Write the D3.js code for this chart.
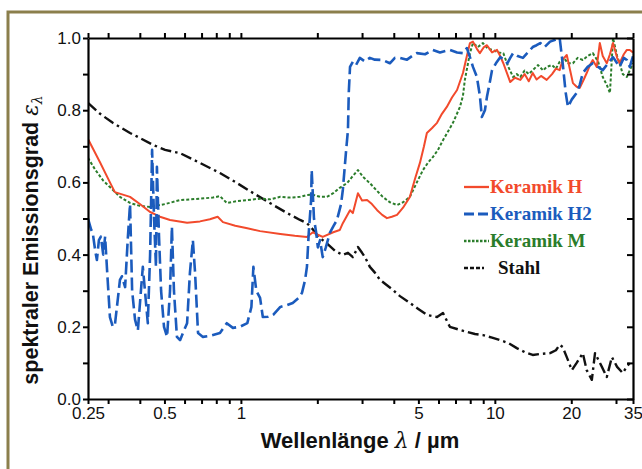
<!DOCTYPE html>
<html><head><meta charset="utf-8">
<script src="https://cdn.jsdelivr.net/npm/d3@7"></script>
<style>body{margin:0;background:#fff}svg{display:block}</style>
</head><body><svg id="c" width="642" height="469"></svg>
<script>
const xTickValues = [0.25,0.3,0.4,0.5,0.6,0.7,0.8,0.9,1,2,3,4,5,6,7,8,9,10,20,30,35];
const xTickLabels = [0.25,0.5,1,5,10,20,35];
const yTickValues = [0,0.1,0.2,0.3,0.4,0.5,0.6,0.7,0.8,0.9,1.0];
const yTickLabels = [0,0.2,0.4,0.6,0.8,1.0];
const seriesNames = ["Keramik H","Keramik H2","Keramik M","Stahl"];

const hWl = [0.25,0.279,0.305,0.319,0.366,0.40,0.439,0.48,0.526,0.614,0.69,0.755,0.81,0.85,0.95,1.06,1.19,1.43,1.63,1.82,1.92,2.01,2.10,2.31,2.45,2.52,2.69,2.76,2.89,3.0,3.14,3.28,3.44,3.6,3.76,3.93,4.12,4.35,4.63,4.85,5.07,5.26,5.40,5.65,5.92,6.19,6.47,6.78,7.10,7.49,7.76,7.98,8.2,8.5,8.73,9.06,9.31,9.75,10.2,10.5,10.8,11.2,11.5,12.0,12.6,13.1,13.6,14.1,14.6,15.2,16.0,16.8,17.4,18.0,18.5,19.2,19.8,20.3,21.0,21.6,22.4,23.0,23.7,24.3,25.2,25.9,26.6,27.6,28.4,29.2,30.3,31.0,32.2,33.1,34.0,35];
const hVal = [0.72,0.655,0.6,0.573,0.56,0.54,0.518,0.505,0.496,0.488,0.492,0.498,0.505,0.49,0.48,0.473,0.465,0.457,0.452,0.449,0.462,0.455,0.449,0.462,0.468,0.487,0.523,0.515,0.57,0.55,0.551,0.54,0.523,0.51,0.501,0.505,0.51,0.53,0.56,0.61,0.654,0.7,0.737,0.75,0.765,0.79,0.809,0.835,0.856,0.903,0.95,0.986,0.99,0.97,0.958,0.975,0.98,0.96,0.967,0.95,0.93,0.9,0.878,0.89,0.884,0.9,0.88,0.903,0.885,0.895,0.884,0.9,0.915,0.911,0.94,0.953,0.91,0.875,0.865,0.862,0.885,0.903,0.925,0.939,0.92,0.986,0.95,0.93,0.955,0.986,0.945,0.93,0.955,0.967,0.967,0.96];

const h2Wl = [0.25,0.257,0.261,0.267,0.271,0.276,0.281,0.287,0.292,0.297,0.305,0.313,0.319,0.328,0.334,0.34,0.35,0.359,0.366,0.373,0.383,0.393,0.404,0.411,0.419,0.43,0.439,0.447,0.455,0.463,0.467,0.476,0.485,0.498,0.512,0.526,0.535,0.545,0.56,0.576,0.597,0.614,0.63,0.647,0.66,0.678,0.709,0.755,0.827,0.88,0.93,0.99,1.06,1.10,1.12,1.15,1.19,1.22,1.28,1.34,1.43,1.52,1.60,1.69,1.74,1.79,1.82,1.85,1.89,1.90,1.94,1.98,2.01,2.05,2.10,2.16,2.24,2.32,2.39,2.48,2.52,2.59,2.64,2.66,2.69,2.76,2.84,2.94,3.08,3.22,3.37,3.62,3.86,4.04,4.23,4.51,4.72,4.93,5.31,5.70,6.08,6.65,7.10,7.49,7.76,7.98,8.2,8.5,8.73,8.89,9.14,9.31,9.57,9.75,10.1,10.5,10.9,11.2,11.5,11.8,12.3,12.9,13.5,14.1,14.6,15.1,15.7,16.5,17.3,18.0,18.5,19.0,19.4,20.1,21.0,21.6,22.2,23.2,24.3,25.5,26.6,27.9,29.2,30.3,31.0,32.2,33.1,34.0,35];
const h2Val = [0.5,0.47,0.46,0.41,0.385,0.44,0.45,0.4,0.45,0.36,0.227,0.2,0.205,0.28,0.33,0.34,0.31,0.45,0.54,0.3,0.22,0.19,0.3,0.366,0.3,0.21,0.4,0.69,0.5,0.366,0.643,0.45,0.3,0.2,0.172,0.3,0.477,0.3,0.172,0.163,0.19,0.21,0.35,0.44,0.35,0.183,0.172,0.175,0.183,0.21,0.197,0.2,0.21,0.255,0.366,0.3,0.28,0.227,0.228,0.233,0.255,0.26,0.266,0.28,0.294,0.33,0.366,0.46,0.55,0.634,0.5,0.46,0.42,0.44,0.393,0.42,0.46,0.48,0.496,0.54,0.579,0.68,0.745,0.85,0.92,0.934,0.925,0.945,0.935,0.945,0.94,0.939,0.93,0.945,0.945,0.94,0.95,0.958,0.955,0.967,0.96,0.967,0.96,0.958,0.972,0.947,0.92,0.892,0.84,0.781,0.8,0.837,0.88,0.911,0.93,0.947,0.94,0.93,0.945,0.958,0.95,0.945,0.96,0.975,0.98,0.986,0.975,0.99,0.995,1.0,0.93,0.85,0.809,0.83,0.848,0.87,0.903,0.92,0.93,0.92,0.911,0.93,0.947,0.93,0.92,0.945,0.939,0.92,0.95];

const mWl = [0.25,0.267,0.287,0.305,0.334,0.366,0.40,0.439,0.503,0.576,0.69,0.776,0.827,0.88,0.966,1.06,1.19,1.30,1.43,1.56,1.71,1.82,1.92,2.05,2.18,2.31,2.45,2.62,2.74,2.89,3.03,3.22,3.40,3.62,3.86,4.12,4.35,4.63,4.93,5.21,5.46,5.70,5.97,6.25,6.53,6.84,7.29,7.49,7.62,7.84,7.98,8.2,8.57,8.98,9.4,9.82,10.3,10.8,11.3,11.8,12.2,12.6,13.1,13.6,14.1,14.8,15.5,16.0,16.8,17.4,18.0,18.7,19.4,20.3,21.2,22.2,23.2,24.3,25.5,26.6,27.6,28.4,29.2,30.3,31.0,31.9,33.1,34.0,35];
const mVal = [0.668,0.635,0.605,0.587,0.56,0.543,0.535,0.532,0.54,0.551,0.555,0.558,0.562,0.543,0.548,0.551,0.555,0.553,0.56,0.558,0.56,0.565,0.566,0.56,0.56,0.57,0.585,0.598,0.615,0.634,0.615,0.598,0.58,0.56,0.545,0.537,0.545,0.56,0.6,0.634,0.655,0.67,0.69,0.717,0.74,0.765,0.809,0.84,0.884,0.93,0.958,0.986,0.975,0.986,0.97,0.967,0.96,0.958,0.92,0.892,0.9,0.892,0.91,0.9,0.911,0.925,0.91,0.92,0.925,0.915,0.934,0.945,0.93,0.93,0.945,0.939,0.95,0.958,0.935,0.892,0.87,0.848,1.0,0.95,0.93,0.9,0.892,0.911,0.93];

const sWl = [0.25,0.279,0.313,0.366,0.451,0.503,0.576,0.69,0.827,0.966,1.12,1.30,1.52,1.71,1.82,1.92,2.01,2.10,2.18,2.35,2.52,2.64,2.76,2.84,2.89,3.0,3.08,3.22,3.37,3.53,3.76,3.97,4.23,4.63,4.98,5.40,5.92,6.25,6.65,7.16,7.76,8.35,8.98,9.75,10.5,11.3,12.2,13.1,14.1,15.1,16.5,17.4,18.0,18.5,19.2,20.1,21.0,22.2,23.0,24.1,24.8,25.5,26.4,27.6,28.9,30.3,31.9,33.1,34.0];
const sVal = [0.82,0.79,0.765,0.737,0.704,0.69,0.681,0.654,0.626,0.598,0.57,0.543,0.515,0.496,0.487,0.47,0.45,0.44,0.431,0.41,0.399,0.405,0.393,0.41,0.421,0.405,0.393,0.366,0.35,0.33,0.315,0.302,0.285,0.266,0.25,0.233,0.227,0.238,0.2,0.193,0.186,0.18,0.177,0.17,0.163,0.155,0.141,0.13,0.122,0.125,0.127,0.135,0.15,0.144,0.116,0.08,0.1,0.127,0.08,0.053,0.127,0.11,0.089,0.061,0.116,0.089,0.072,0.09,0.1];

const svg = d3.select("#c");
const L = 88, R = 633, T = 38, B = 399;
const x = d3.scaleLog().domain([0.25,35]).range([L,R]);
const y = d3.scaleLinear().domain([0,1]).range([B,T]);

// frame
svg.append("rect").attr("x",8).attr("y",12).attr("width",660).attr("height",480)
  .attr("fill","#fff").attr("stroke","#8b7f4c").attr("stroke-width",3);

svg.append("clipPath").attr("id","clip").append("rect")
  .attr("x",L).attr("y",T-1).attr("width",R-L).attr("height",B-T+1);

const styles = [
  {wl:hWl, v:hVal, color:"#f24a2c", dash:null, w:2},
  {wl:h2Wl, v:h2Val, color:"#1b5bbd", dash:"13,5", w:2.6},
  {wl:mWl, v:mVal, color:"#2b7d2b", dash:"3,2", w:2},
  {wl:sWl, v:sVal, color:"#111", dash:"11,4,2.5,4", w:2.4}
];
const line = d3.line().x(d=>x(d[0])).y(d=>y(d[1]));
const g = svg.append("g").attr("clip-path","url(#clip)");
[3,2,0,1].forEach(i=>{
  const s = styles[i];
  g.append("path").datum(s.wl.map((w,k)=>[w,s.v[k]]))
    .attr("d",line).attr("fill","none").attr("stroke",s.color)
    .attr("stroke-width",s.w).attr("stroke-dasharray",s.dash)
    .attr("stroke-linejoin","round");
});

const fmtX = d => xTickLabels.includes(d) ? String(d) : "";
const fmtY = d => yTickLabels.some(t=>Math.abs(t-d)<1e-9) ? d.toFixed(1) : "";

const ax = (sel)=>{sel.selectAll(".domain").attr("stroke","#000").attr("stroke-width",2.2);
  sel.selectAll(".tick line").attr("stroke","#000").attr("stroke-width",2);
  sel.selectAll(".tick text").attr("fill","#111").style("font-family","Liberation Sans, Arial, sans-serif").style("font-size","17px");};

svg.append("g").attr("transform",`translate(0,${B})`)
  .call(d3.axisBottom(x).tickValues(xTickValues).tickFormat(fmtX).tickSize(5).tickSizeOuter(0).tickPadding(3)).call(ax);
svg.append("g").attr("transform",`translate(0,${T})`)
  .call(d3.axisTop(x).tickValues(xTickValues).tickFormat("").tickSize(5).tickSizeOuter(0)).call(ax);
svg.append("g").attr("transform",`translate(${L},0)`)
  .call(d3.axisLeft(y).tickValues(yTickValues).tickFormat(fmtY).tickSize(5).tickSizeOuter(0).tickPadding(2)).call(ax);
svg.append("g").attr("transform",`translate(${R},0)`)
  .call(d3.axisLeft(y).tickValues(yTickValues).tickFormat("").tickSize(6).tickSizeOuter(0)).call(ax);

// axis titles
const yt = svg.append("text").attr("transform","translate(38,240) rotate(-90)")
  .attr("text-anchor","middle").style("font-family","Liberation Sans, Arial, sans-serif")
  .style("font-size","21.5px").style("font-weight","bold").attr("fill","#111");
yt.append("tspan").text("spektraler Emissionsgrad ");
yt.append("tspan").style("font-family","DejaVu Serif, serif").style("font-style","italic").style("font-weight","normal").text("ε");
yt.append("tspan").style("font-family","DejaVu Serif, serif").style("font-style","italic").style("font-weight","normal").style("font-size","14px").attr("dy",4).text("λ");

const xt = svg.append("text").attr("x",360).attr("y",448).attr("text-anchor","middle")
  .style("font-family","Liberation Sans, Arial, sans-serif").style("font-size","22px").style("font-weight","bold").attr("fill","#111");
xt.append("tspan").text("Wellenlänge ");
xt.append("tspan").style("font-family","DejaVu Serif, serif").style("font-style","italic").style("font-weight","normal").text("λ");
xt.append("tspan").text("  / µm");

// legend
const legY = [187,214,241,268];
const lg = svg.append("g");
seriesNames.forEach((n,i)=>{
  const s = styles[i];
  lg.append("line").attr("x1",464).attr("x2",i===3?484:489).attr("y1",legY[i]).attr("y2",legY[i])
    .attr("stroke",s.color).attr("stroke-width",s.w+0.3).attr("stroke-dasharray",i===1?"10,4":i===2?"2.5,1.5":i===3?"4,2":null);
  lg.append("text").attr("x",i===3?498:490).attr("y",legY[i]+6).text(n)
    .attr("fill",i===3?"#111":s.color).style("font-family","Liberation Serif, Times New Roman, serif")
    .style("font-size","19px").style("font-weight","bold");
});
</script></body></html>
